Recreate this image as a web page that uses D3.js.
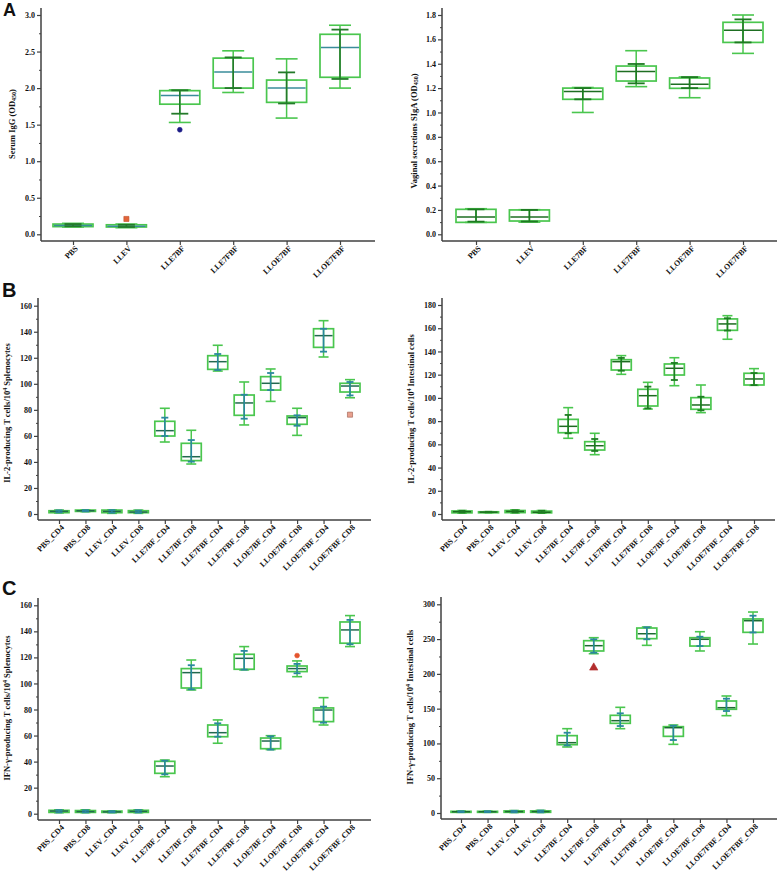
<!DOCTYPE html>
<html>
<head>
<meta charset="utf-8">
<script src="https://cdn.jsdelivr.net/npm/d3@7"></script>
<style>
  body { margin: 0; background: #fff; }
</style>
</head>
<body>
<svg id="chart"></svg>
<script>
// ---- categories ----
const catsA = ['PBS', 'LLEV', 'LLE7BF', 'LLE7FBF', 'LLOE7BF', 'LLOE7FBF'];
const catsT = ['PBS_CD4', 'PBS_CD8', 'LLEV_CD4', 'LLEV_CD8', 'LLE7BF_CD4', 'LLE7BF_CD8',
               'LLE7FBF_CD4', 'LLE7FBF_CD8', 'LLOE7BF_CD4', 'LLOE7BF_CD8', 'LLOE7FBF_CD4', 'LLOE7FBF_CD8'];

// ---- box stats: [whiskerLow, q1, median, q3, whiskerHigh, barLow, barHigh] ----
const serumIgG = [
  [0.10, 0.105, 0.12, 0.14, 0.15, 0.11, 0.14],
  [0.09, 0.10, 0.11, 0.13, 0.14, 0.10, 0.13],
  [1.53, 1.78, 1.90, 1.965, 1.975, 1.65, 1.97],
  [1.94, 2.00, 2.22, 2.41, 2.51, 2.00, 2.42],
  [1.59, 1.805, 2.00, 2.11, 2.40, 1.79, 2.215],
  [2.00, 2.148, 2.554, 2.736, 2.86, 2.125, 2.80]
];
const vaginalSIgA = [
  [0.098, 0.098, 0.142, 0.205, 0.21, 0.104, 0.205],
  [0.10, 0.109, 0.142, 0.20, 0.202, 0.105, 0.20],
  [1.00, 1.108, 1.173, 1.20, 1.205, 1.108, 1.20],
  [1.212, 1.258, 1.337, 1.381, 1.507, 1.239, 1.398],
  [1.121, 1.198, 1.231, 1.283, 1.291, 1.20, 1.29],
  [1.485, 1.575, 1.674, 1.74, 1.80, 1.575, 1.764]
];
const il2Spleen = [
  [0.8, 1.0, 2.0, 2.5, 3.0, 1.2, 2.8],
  [1.8, 2.0, 2.5, 3.0, 3.2, 2.0, 3.0],
  [0.5, 1.0, 2.0, 3.0, 3.2, 1.0, 3.0],
  [0.5, 1.0, 1.5, 2.5, 3.0, 0.8, 2.6],
  [55.3, 59.9, 64.0, 71.2, 81.2, 59.9, 74.0],
  [38.4, 41.0, 44.0, 54.3, 64.3, 40.2, 56.8],
  [109.8, 111.1, 117.0, 121.6, 129.6, 110.6, 122.9],
  [68.4, 75.8, 85.3, 91.4, 101.4, 73.2, 91.6],
  [86.5, 95.2, 100.4, 105.5, 111.4, 95.2, 108.3],
  [60.4, 68.9, 74.0, 75.3, 81.2, 67.8, 75.8],
  [120.6, 128.0, 137.0, 142.3, 148.5, 124.7, 142.3],
  [89.3, 93.7, 98.3, 100.4, 103.2, 91.1, 101.4]
];
const il2Intestine = [
  [0.8, 1.0, 2.0, 2.6, 3.0, 1.2, 2.8],
  [1.2, 1.4, 1.6, 1.9, 2.0, 1.4, 1.9],
  [1.0, 1.2, 2.2, 3.0, 3.5, 1.3, 3.2],
  [0.8, 1.0, 1.5, 2.5, 3.0, 1.0, 2.8],
  [65.2, 70.0, 75.5, 81.5, 91.6, 69.5, 85.3],
  [51.1, 55.1, 58.8, 62.3, 69.5, 54.3, 64.6],
  [120.3, 124.0, 131.2, 132.9, 136.4, 123.4, 134.4],
  [90.4, 93.0, 101.9, 107.4, 113.4, 91.0, 109.7],
  [110.5, 119.7, 125.5, 129.2, 134.6, 115.4, 130.1],
  [87.3, 90.2, 93.9, 100.2, 111.1, 89.3, 101.0],
  [150.5, 158.2, 163.7, 168.0, 170.8, 158.0, 168.6],
  [110.8, 111.1, 116.3, 121.2, 125.2, 111.0, 121.4]
];
const ifnSpleen = [
  [0.8, 1.0, 2.0, 2.6, 3.0, 1.0, 2.8],
  [0.8, 1.0, 1.6, 2.4, 3.0, 1.0, 2.6],
  [0.8, 1.0, 1.4, 2.0, 2.2, 1.0, 2.0],
  [0.8, 1.0, 1.8, 2.6, 3.0, 1.0, 2.8],
  [28.4, 31.0, 36.6, 40.2, 41.2, 30.2, 40.7],
  [95.0, 96.5, 108.3, 111.4, 118.0, 95.5, 114.0],
  [54.1, 59.1, 62.2, 68.1, 72.0, 59.1, 69.4],
  [110.4, 110.9, 119.3, 122.4, 128.3, 110.6, 125.0],
  [49.2, 49.9, 55.8, 58.1, 59.9, 49.2, 59.4],
  [105.2, 109.1, 111.4, 113.4, 117.3, 107.8, 115.0],
  [68.1, 70.7, 79.6, 81.2, 89.1, 69.9, 82.2],
  [128.3, 130.9, 141.1, 147.2, 152.1, 130.1, 148.8]
];
const ifnIntestine = [
  [1.0, 1.2, 1.8, 2.4, 2.8, 1.2, 2.6],
  [1.0, 1.2, 1.8, 2.4, 2.8, 1.2, 2.6],
  [0.8, 1.0, 2.0, 3.0, 3.5, 1.0, 3.2],
  [0.8, 1.0, 2.0, 3.0, 3.8, 1.0, 3.5],
  [94.9, 98.2, 101.1, 111.2, 121.2, 97.2, 115.4],
  [229.0, 232.9, 240.5, 247.7, 252.0, 230.4, 249.7],
  [121.2, 128.9, 132.7, 140.4, 151.9, 125.0, 143.3],
  [241.0, 250.6, 257.7, 265.9, 267.4, 249.7, 266.9],
  [98.7, 110.2, 122.6, 124.1, 126.5, 104.9, 125.5],
  [232.9, 240.0, 249.7, 252.0, 260.6, 240.0, 253.4],
  [139.9, 149.1, 151.4, 161.0, 168.2, 146.6, 164.3],
  [242.9, 259.7, 276.4, 278.9, 288.9, 259.5, 283.6]
];

// ---- outliers: [category, value] ----
const outIgG = [['LLEV', 0.21], ['LLE7BF', 1.43]];
const outIl2Spleen = [['LLOE7FBF_CD8', 76.3]];
const outIfnSpleen = [['LLOE7BF_CD8', 121.4]];
const outIfnIntestine = [['LLE7BF_CD8', 208.9]];

// ---- y tick labels ----
const ticksIgG = [0, 0.5, 1.0, 1.5, 2.0, 2.5, 3.0];
const ticksSIgA = [0, 0.2, 0.4, 0.6, 0.8, 1.0, 1.2, 1.4, 1.6, 1.8];
const ticks160 = [0, 20, 40, 60, 80, 100, 120, 140, 160];
const ticks180 = [0, 20, 40, 60, 80, 100, 120, 140, 160, 180];
const ticks300 = [0, 50, 100, 150, 200, 250, 300];

// ---- drawing ----
const svg = d3.select('#chart').attr('width', 778).attr('height', 874);

const lightGreen = '#4ac64e';
const axisColor = '#414141';
const textColor = '#111';
const serif = '"Liberation Serif", "Times New Roman", serif';
const sans = '"Liberation Sans", Arial, sans-serif';

const markerStyles = {
  square: { type: d3.symbolSquare, size: 26 },
  circle: { type: d3.symbolCircle, size: 18 },
  triangle: { type: d3.symbolTriangle, size: 30 }
};

const panels = [
  { stats: serumIgG, cats: catsA, ticks: ticksIgG, fmt: '.1f', outliers: outIgG,
    markers: [['square', '#e2643a', '#c0502a'], ['circle', '#1b1b86', '#1b1b86']],
    axisX: 41, axisY: 241, top: 8, right: 375, zeroY: 234.3, topY: 15, firstX: 73, lastX: 340,
    boxW: 40, capW: 22, barCapW: 17, median: '#3a8c9a', bar: '#247a2a',
    title: ['Serum IgG (OD', '450', ')'], titleMode: 'sub', titleX: 12, titleY: 124 },
  { stats: vaginalSIgA, cats: catsA, ticks: ticksSIgA, fmt: '.1f', outliers: [], markers: [],
    axisX: 442, axisY: 241, top: 8, right: 777, zeroY: 234.3, topY: 15, firstX: 476, lastX: 743,
    boxW: 40, capW: 22, barCapW: 17, median: '#1e6e22', bar: '#1e7a22',
    title: ['Vaginal secretions SIgA (OD', '450', ')'], titleMode: 'sub', titleX: 414, titleY: 131 },
  { stats: il2Spleen, cats: catsT, ticks: ticks160, fmt: 'd', outliers: outIl2Spleen,
    markers: [['square', '#e8a08e', '#9a5a4a']],
    axisX: 38, axisY: 520, top: 298, right: 371, zeroY: 514, topY: 305.7, firstX: 59, lastX: 350,
    boxW: 20, capW: 10, barCapW: 7, median: '#22694e', bar: '#2a889e',
    title: ['IL-2-producing T cells/10', '4', ' Splenocytes'], titleMode: 'super', titleX: 7, titleY: 413 },
  { stats: il2Intestine, cats: catsT, ticks: ticks180, fmt: 'd', outliers: [], markers: [],
    axisX: 442, axisY: 520, top: 298, right: 775, zeroY: 514, topY: 305, firstX: 462, lastX: 754,
    boxW: 20, capW: 10, barCapW: 7, median: '#1d6b20', bar: '#1e7d22',
    title: ['IL-2-producing T cells/10', '4', ' Intestinal cells'], titleMode: 'super', titleX: 411, titleY: 409 },
  { stats: ifnSpleen, cats: catsT, ticks: ticks160, fmt: 'd', outliers: outIfnSpleen,
    markers: [['circle', '#e4542e', '#e4542e']],
    axisX: 38, axisY: 820, top: 598, right: 371, zeroY: 813.7, topY: 605.3, firstX: 59, lastX: 350,
    boxW: 20, capW: 10, barCapW: 7, median: '#22694e', bar: '#2a889e',
    title: ['IFN-γ-producing T cells/10', '4', ' Splenocytes'], titleMode: 'super', titleX: 7, titleY: 708 },
  { stats: ifnIntestine, cats: catsT, ticks: ticks300, fmt: 'd', outliers: outIfnIntestine,
    markers: [['triangle', '#b32d2d', '#b32d2d']],
    axisX: 441, axisY: 819, top: 597, right: 777, zeroY: 813, topY: 604.3, firstX: 461, lastX: 753,
    boxW: 20, capW: 10, barCapW: 7, median: '#1d6b32', bar: '#2a889e',
    title: ['IFN-γ-producing T cells/10', '4', ' Intestinal cells'], titleMode: 'super', titleX: 410, titleY: 707 }
];

function drawPanel(p) {
  const g = svg.append('g');
  const y = d3.scaleLinear().domain([0, d3.max(p.ticks)]).range([p.zeroY, p.topY]);
  const x = d3.scalePoint().domain(p.cats).range([p.firstX, p.lastX]);

  // minor ticks halfway between majors
  const minor = p.ticks.slice(1).map((t, i) => (t + p.ticks[i]) / 2);
  g.append('g')
    .attr('transform', `translate(${p.axisX},0)`)
    .call(d3.axisLeft(y).tickValues(minor).tickSize(2).tickFormat(''))
    .call(a => a.select('.domain').remove())
    .call(a => a.selectAll('line').attr('stroke', axisColor));

  g.append('g')
    .attr('transform', `translate(${p.axisX},0)`)
    .call(d3.axisLeft(y).tickValues(p.ticks).tickSize(4).tickPadding(2).tickFormat(d3.format(p.fmt)))
    .call(a => a.select('.domain').remove())
    .call(a => a.selectAll('line').attr('stroke', axisColor).attr('stroke-width', 1.2))
    .call(a => a.selectAll('text')
      .attr('font-family', serif).attr('font-weight', 'bold')
      .attr('font-size', 8).attr('fill', textColor));

  // x axis ticks + rotated labels
  g.append('g')
    .attr('transform', `translate(0,${p.axisY})`)
    .call(d3.axisBottom(x).tickSize(4))
    .call(a => a.select('.domain').remove())
    .call(a => a.selectAll('line').attr('stroke', axisColor).attr('stroke-width', 1.2))
    .call(a => a.selectAll('text')
      .attr('y', 0).attr('x', 0).attr('dy', '0.35em')
      .attr('transform', 'translate(3,6) rotate(-45)')
      .attr('text-anchor', 'end')
      .attr('font-family', serif).attr('font-weight', 'bold')
      .attr('font-size', 8).attr('fill', textColor));

  // axis lines
  g.append('line')
    .attr('x1', p.axisX).attr('x2', p.axisX).attr('y1', p.top).attr('y2', p.axisY)
    .attr('stroke', axisColor).attr('stroke-width', 1.5);
  g.append('line')
    .attr('x1', p.axisX).attr('x2', p.right).attr('y1', p.axisY).attr('y2', p.axisY)
    .attr('stroke', axisColor).attr('stroke-width', 1.5);

  // y title
  const t = g.append('text')
    .attr('transform', `translate(${p.titleX},${p.titleY}) rotate(-90)`)
    .attr('text-anchor', 'middle')
    .attr('dominant-baseline', 'central')
    .attr('font-family', serif).attr('font-weight', 'bold')
    .attr('font-size', 8.5).attr('fill', textColor);
  t.append('tspan').text(p.title[0]);
  t.append('tspan')
    .attr('font-size', 6)
    .attr('baseline-shift', p.titleMode === 'sub' ? '-25%' : '40%')
    .text(p.title[1]);
  t.append('tspan').text(p.title[2]);

  // boxes
  const rows = p.cats.map((c, i) => ({ cat: c, s: p.stats[i] }));
  const box = g.selectAll('.box').data(rows).join('g')
    .attr('class', 'box')
    .attr('transform', d => `translate(${x(d.cat)},0)`);

  // whisker (light green)
  box.append('line')
    .attr('y1', d => y(d.s[0])).attr('y2', d => y(d.s[4]))
    .attr('stroke', lightGreen).attr('stroke-width', 1.5);
  [0, 4].forEach(k => {
    box.append('line')
      .attr('x1', -p.capW / 2).attr('x2', p.capW / 2)
      .attr('y1', d => y(d.s[k])).attr('y2', d => y(d.s[k]))
      .attr('stroke', lightGreen).attr('stroke-width', 1.6);
  });

  // box
  box.append('rect')
    .attr('x', -p.boxW / 2).attr('width', p.boxW)
    .attr('y', d => y(d.s[3]))
    .attr('height', d => Math.max(1, y(d.s[1]) - y(d.s[3])))
    .attr('fill', 'none')
    .attr('stroke', lightGreen).attr('stroke-width', 1.7);

  // median
  box.append('line')
    .attr('x1', -p.boxW / 2 + 1).attr('x2', p.boxW / 2 - 1)
    .attr('y1', d => y(d.s[2])).attr('y2', d => y(d.s[2]))
    .attr('stroke', p.median).attr('stroke-width', 1.5);

  // inner error bar
  box.append('line')
    .attr('y1', d => y(d.s[5])).attr('y2', d => y(d.s[6]))
    .attr('stroke', p.bar).attr('stroke-width', 1.6);
  [5, 6].forEach(k => {
    box.append('line')
      .attr('x1', -p.barCapW / 2).attr('x2', p.barCapW / 2)
      .attr('y1', d => y(d.s[k])).attr('y2', d => y(d.s[k]))
      .attr('stroke', p.bar).attr('stroke-width', 1.8);
  });

  // outliers
  p.outliers.forEach((o, i) => {
    const [shape, fill, stroke] = p.markers[i];
    const m = markerStyles[shape];
    g.append('path')
      .attr('d', d3.symbol().type(m.type).size(m.size)())
      .attr('transform', `translate(${x(o[0])},${y(o[1])})`)
      .attr('fill', fill).attr('stroke', stroke).attr('stroke-width', 0.6);
  });
}

panels.forEach(drawPanel);

// panel letters
[['A', 3, 16], ['B', 2, 297], ['C', 2, 595]].forEach(([l, lx, ly]) => {
  svg.append('text')
    .attr('x', lx).attr('y', ly)
    .attr('font-family', sans).attr('font-weight', 'bold')
    .attr('font-size', l === 'A' ? 18 : 20).attr('fill', textColor)
    .text(l);
});
</script>
</body>
</html>
